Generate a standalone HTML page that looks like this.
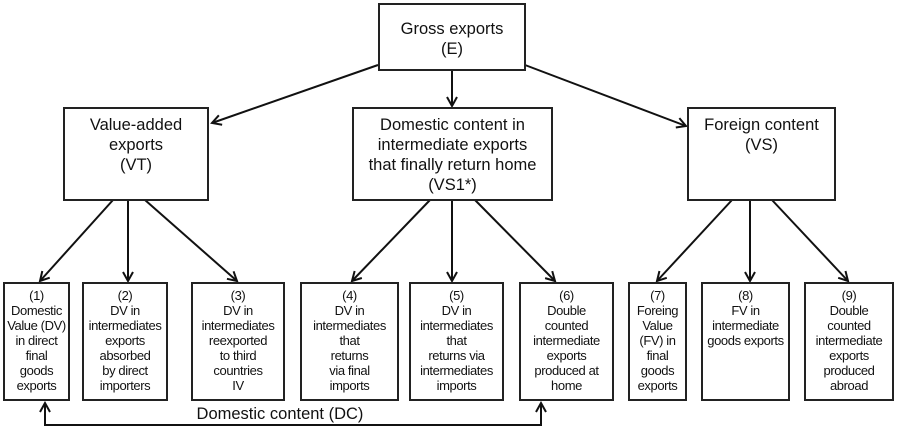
<!DOCTYPE html>
<html><head><meta charset="utf-8"><style>
body{margin:0;background:#fff;width:899px;height:431px;overflow:hidden;position:relative;font-family:"Liberation Sans","DejaVu Sans",sans-serif;color:#111}
.b{position:absolute;border:2px solid #222;box-sizing:border-box;text-align:center;background:#fff}
.t{font-size:16.5px;line-height:20px;padding-top:6px}
.s{font-size:13px;line-height:15px;padding-top:4px;white-space:nowrap;letter-spacing:-0.4px;overflow:visible}
svg{position:absolute;left:0;top:0}
</style></head><body>
<svg width="899" height="431" stroke="#111" stroke-width="2" fill="none">
<defs><marker id="a" markerWidth="12" markerHeight="12" refX="10" refY="6" orient="auto-start-reverse" markerUnits="userSpaceOnUse"><path d="M1,1 L10,6 L1,11"/></marker></defs>
<line x1="378" y1="65" x2="212" y2="123" marker-end="url(#a)"/>
<line x1="525" y1="65" x2="686" y2="126" marker-end="url(#a)"/>
<line x1="452" y1="70" x2="452" y2="106" marker-end="url(#a)"/>
<line x1="113" y1="200" x2="40" y2="281" marker-end="url(#a)"/>
<line x1="128" y1="200" x2="128" y2="281" marker-end="url(#a)"/>
<line x1="145" y1="200" x2="237" y2="281" marker-end="url(#a)"/>
<line x1="430" y1="200" x2="352" y2="281" marker-end="url(#a)"/>
<line x1="452" y1="200" x2="452" y2="281" marker-end="url(#a)"/>
<line x1="475" y1="200" x2="555" y2="281" marker-end="url(#a)"/>
<line x1="732" y1="200" x2="657" y2="281" marker-end="url(#a)"/>
<line x1="750" y1="200" x2="750" y2="281" marker-end="url(#a)"/>
<line x1="772" y1="200" x2="848" y2="281" marker-end="url(#a)"/>
<polyline points="45,403 45,425 541,425 541,403" marker-start="url(#a)" marker-end="url(#a)"/>
</svg>
<div class="b t" style="left:378px;top:3px;width:148px;height:68px;padding-top:14px">Gross exports<br>(E)</div>
<div class="b t" style="left:63px;top:107px;width:146px;height:94px">Value-added<br>exports<br>(VT)</div>
<div class="b t" style="left:352px;top:107px;width:201px;height:94px">Domestic content in<br>intermediate exports<br>that finally return home<br>(VS1*)</div>
<div class="b t" style="left:687px;top:107px;width:149px;height:94px">Foreign content<br>(VS)</div>
<div class="b s" style="left:3px;top:282px;width:67px;height:119px">(1)<br>Domestic<br>Value (DV)<br>in direct<br>final<br>goods<br>exports</div>
<div class="b s" style="left:82px;top:282px;width:86px;height:119px">(2)<br>DV in<br>intermediates<br>exports<br>absorbed<br>by direct<br>importers</div>
<div class="b s" style="left:191px;top:282px;width:94px;height:119px">(3)<br>DV in<br>intermediates<br>reexported<br>to third<br>countries<br>IV</div>
<div class="b s" style="left:300px;top:282px;width:99px;height:119px">(4)<br>DV in<br>intermediates<br>that<br>returns<br>via final<br>imports</div>
<div class="b s" style="left:409px;top:282px;width:95px;height:119px">(5)<br>DV in<br>intermediates<br>that<br>returns via<br>intermediates<br>imports</div>
<div class="b s" style="left:519px;top:282px;width:95px;height:119px">(6)<br>Double<br>counted<br>intermediate<br>exports<br>produced at<br>home</div>
<div class="b s" style="left:628px;top:282px;width:59px;height:119px">(7)<br>Foreing<br>Value<br>(FV) in<br>final<br>goods<br>exports</div>
<div class="b s" style="left:701px;top:282px;width:89px;height:119px">(8)<br>FV in<br>intermediate<br>goods exports</div>
<div class="b s" style="left:804px;top:282px;width:90px;height:119px">(9)<br>Double<br>counted<br>intermediate<br>exports<br>produced<br>abroad</div>
<div style="position:absolute;left:170px;top:405px;width:220px;text-align:center;font-size:16.5px">Domestic content (DC)</div>
</body></html>
